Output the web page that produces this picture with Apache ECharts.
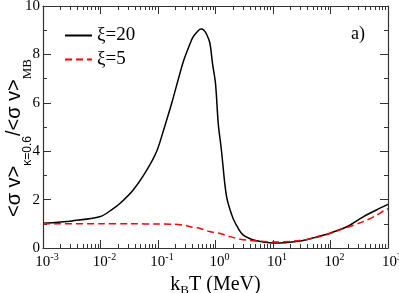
<!DOCTYPE html>
<html>
<head>
<meta charset="utf-8">
<script src="https://cdn.jsdelivr.net/npm/echarts@6/dist/echarts.min.js"></script>
<style>html,body{margin:0;padding:0;background:#fff}#c{width:399px;height:293px}</style>
</head>
<body>
<div id="c"></div>
<script>
// kB T (MeV) and ratio values
const xi20T = [0.001, 0.0032, 0.01, 0.016, 0.022, 0.037, 0.063, 0.095, 0.126, 0.174, 0.275, 0.355, 0.41, 0.5, 0.56, 0.63, 0.71, 0.8, 0.89, 1.0, 1.12, 1.26, 1.46, 1.58, 1.78, 2.04, 2.5, 3.0, 4.0, 5.2, 7.1, 10, 16, 32, 56, 100, 200, 370, 630, 1000];
const xi20R = [1.02, 1.12, 1.30, 1.6, 1.85, 2.4, 3.2, 4.0, 4.9, 6.0, 7.7, 8.4, 8.73, 8.98, 9.05, 9.0, 8.8, 8.46, 7.6, 6.8, 5.1, 4.1, 2.6, 2.05, 1.6, 1.2, 0.8, 0.54, 0.38, 0.30, 0.24, 0.21, 0.22, 0.30, 0.45, 0.62, 0.9, 1.29, 1.57, 1.8];
const xi5T = [0.001, 0.01, 0.032, 0.1, 0.19, 0.32, 0.36, 0.54, 0.79, 1.2, 1.78, 2.7, 4.0, 7.8, 10, 16, 30, 50, 85, 160, 370, 630, 890, 1000];
const xi5R = [1.0, 1.0, 1.0, 0.99, 0.98, 0.92, 0.88, 0.81, 0.68, 0.6, 0.47, 0.36, 0.31, 0.26, 0.25, 0.26, 0.31, 0.40, 0.55, 0.78, 1.09, 1.35, 1.57, 1.62];
const seriesNames = ['ξ=20', 'ξ=5'];
const xMajor = [0.001, 0.01, 0.1, 1, 10, 100, 1000];
const xMinorMant = [2, 3, 4, 5, 6, 7, 8, 9];
const yTicks = [0, 2, 4, 6, 8, 10];

const xMinor = [];
xMajor.slice(0, -1).forEach(d => xMinorMant.forEach(m => xMinor.push(+(d * m).toPrecision(3))));

const serif = 'Liberation Serif';
const sans = 'Liberation Sans';
const axisCol = '#333';

function pairs(xs, ys) { return xs.map((x, i) => [x, ys[i]]); }

function baseX(pos, showLine, ticks, len, labels) {
  return {
    type: 'log', logBase: 10, min: 0.001, max: 1000, position: pos, gridIndex: 0,
    axisLine: { show: showLine, lineStyle: { color: axisCol, width: 1.2 } },
    axisTick: { show: true, inside: true, length: len, customValues: ticks, lineStyle: { color: axisCol, width: 1 } },
    axisLabel: labels ? {
      show: true, margin: 4, customValues: xMajor,
      formatter: v => {
        const e = String(Math.round(Math.log10(v)));
        return '{sp|}{b|10}{s|' + e + '}';
      },
      rich: {
        b: { fontFamily: serif, fontSize: 15, color: '#000', lineHeight: 20 },
        s: { fontFamily: serif, fontSize: 10, color: '#000', lineHeight: 12, verticalAlign: 'top' },
        sp: { width: 8 }
      }
    } : { show: false },
    splitLine: { show: false }
  };
}

const xAxes = [
  Object.assign(baseX('bottom', true, xMajor, 8, true), {
    name: '{m|k}{sub|B}{m|T (MeV)}', nameLocation: 'middle', nameGap: 18,
    nameTextStyle: { rich: {
      m: { fontFamily: serif, fontSize: 20, color: '#000', lineHeight: 26 },
      sub: { fontFamily: serif, fontSize: 13, color: '#000', lineHeight: 14, verticalAlign: 'bottom' }
    } }
  }),
  baseX('bottom', false, xMinor, 4, false),
  baseX('top', true, xMajor, 8, false),
  baseX('top', false, xMinor, 4, false)
];

function baseY(pos, labels) {
  return {
    type: 'value', min: 0, max: 10, interval: 2, position: pos,
    axisLine: { show: true, lineStyle: { color: axisCol, width: 1.2 } },
    axisTick: { show: true, inside: true, length: 8, lineStyle: { color: axisCol } },
    minorTick: { show: true, splitNumber: 2, length: 4, lineStyle: { color: axisCol } },
    axisLabel: labels ? { show: true, margin: 3, fontFamily: serif, fontSize: 15, color: '#000',
      customValues: yTicks } : { show: false },
    splitLine: { show: false }
  };
}

const yAxes = [
  Object.assign(baseY('left', true), {
    name: '{m|<σ v>}{sub|κ=0.6}{m|/<σ v>}{sub2|MB}', nameLocation: 'middle', nameGap: 9, nameRotate: 90,
    nameMoveOverlap: false,
    nameTextStyle: { padding: [0, 22, 0, 0], rich: {
      m: { fontFamily: sans, fontSize: 20, color: '#000', lineHeight: 40 },
      sub: { fontFamily: sans, fontSize: 12, color: '#000', lineHeight: 12, verticalAlign: 'bottom' },
      sub2: { fontFamily: serif, fontSize: 13, color: '#000', lineHeight: 12, verticalAlign: 'bottom' }
    } }
  }),
  baseY('right', false)
];

const chart = echarts.init(document.getElementById('c'), null, { renderer: 'canvas' });
chart.setOption({
  animation: false,
  backgroundColor: '#fff',
  title: { text: 'a)', left: 351, top: 25, padding: 0, textStyle: { fontFamily: serif, fontSize: 18, fontWeight: 'normal', color: '#000' } },
  legend: {
    orient: 'vertical', left: 64, top: 26, padding: 0, itemWidth: 27, itemHeight: 14, itemGap: 5,
    data: seriesNames,
    itemStyle: { opacity: 0 },
    textStyle: { fontFamily: serif, fontSize: 19, color: '#000', padding: [0, 0, 0, 0] }
  },
  grid: { left: 43, right: 11, top: 6, bottom: 45, containLabel: false, outerBoundsMode: 'none' },
  xAxis: xAxes,
  yAxis: yAxes,
  series: [
    { name: seriesNames[0], type: 'line', xAxisIndex: 0, yAxisIndex: 0, data: pairs(xi20T, xi20R),
      symbol: 'none', smooth: 0.3, lineStyle: { color: '#000', width: 1.5 }, itemStyle: { color: '#000' } },
    { name: seriesNames[1], type: 'line', xAxisIndex: 0, yAxisIndex: 0, data: pairs(xi5T, xi5R),
      symbol: 'none', smooth: 0.3, lineStyle: { color: '#ff0000', width: 1.5, type: [7, 4] }, itemStyle: { color: '#ff0000' } }
  ]
});
</script>
</body>
</html>
